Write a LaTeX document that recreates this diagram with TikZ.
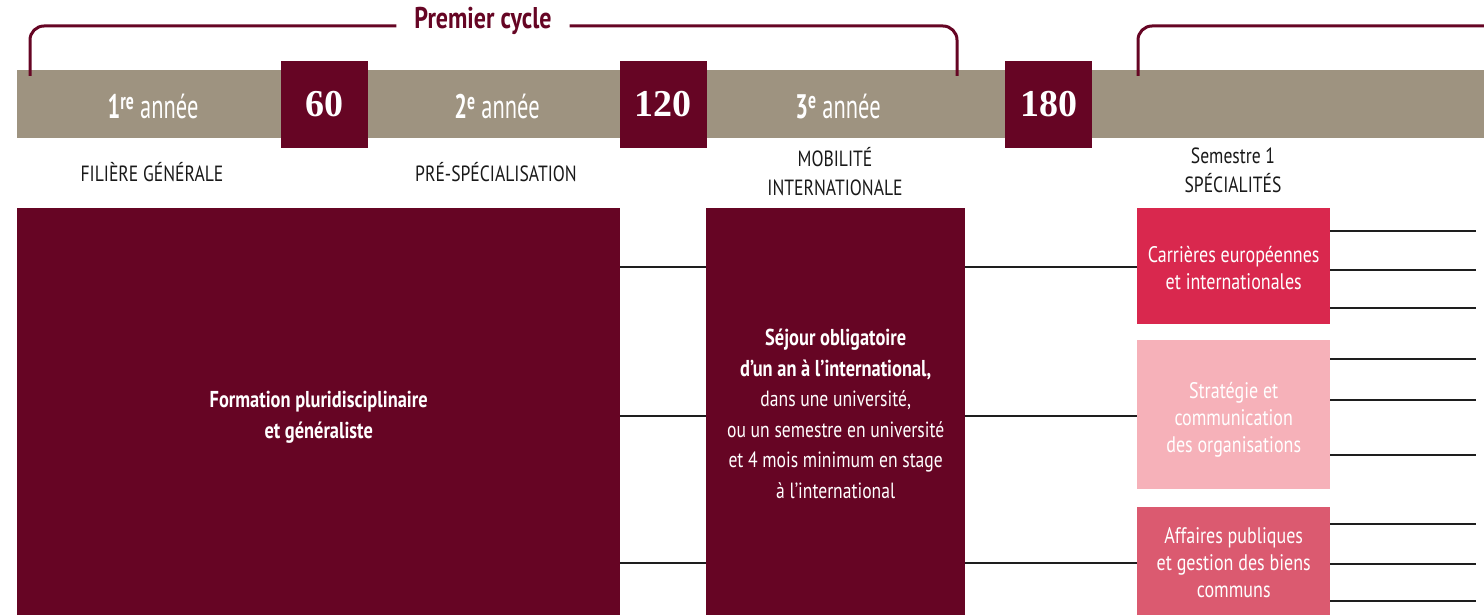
\documentclass[tikz,border=0pt]{standalone}
\usepackage{fontspec}
\setmainfont{PT Sans}[FakeStretch=0.8]
\newfontfamily\yearfont{PT Sans}[FakeStretch=0.66]
\newfontfamily\numfont{Liberation Serif}
\definecolor{maroon}{HTML}{660524}
\definecolor{bandc}{HTML}{9E9380}
\definecolor{specA}{HTML}{D9284E}
\definecolor{specB}{HTML}{F6B1B9}
\definecolor{specC}{HTML}{DB5A70}
\definecolor{linec}{HTML}{1E1E1E}
\tikzset{
  numbox/.style={fill=maroon, text=white, minimum width=87pt, minimum height=87pt, inner sep=0pt, font=\numfont\bfseries\fontsize{38}{40}\selectfont},
  yearlbl/.style={text=white, inner sep=0pt, font=\yearfont\fontsize{34}{36}\selectfont},
  sublbl/.style={text=black!90, align=center, inner sep=0pt, font=\fontsize{22}{29}\selectfont},
  bigbox/.style={fill=maroon, anchor=north west, inner sep=0pt},
  boxtext/.style={text=white, inner sep=0pt, align=center},
  specbox/.style={anchor=north west, minimum width=193pt, inner sep=0pt},
  spectext/.style={text=white, inner sep=0pt, align=center, font=\fontsize{22.5}{27}\selectfont},
  conn/.style={draw=linec, line width=1.8pt},
  bracket/.style={draw=maroon, line width=3pt, rounded corners=14pt},
}
\begin{document}
\begin{tikzpicture}[x=1pt,y=-1pt]
\useasboundingbox (0,0) rectangle (1484,615);
% band
\fill[bandc] (17,70) rectangle (1484,138);
% credit boxes
\node[numbox] (n60) at (324.5,104.5) {60};
\node[numbox] (n120) at (663,104.5) {120};
\node[numbox] (n180) at (1048.5,104.5) {180};
% year labels
\node[yearlbl] (y1) at (153,106) {\textbf{1\textsuperscript{re}} année};
\node[yearlbl] (y2) at (497,106) {\textbf{2\textsuperscript{e}} année};
\node[yearlbl] (y3) at (838,106) {\textbf{3\textsuperscript{e}} année};
% brackets
\node[text=maroon, inner xsep=18pt, inner ysep=0pt, font=\bfseries\fontsize{30}{31}\selectfont] (pc) at (483,21) {Premier cycle};
\coordinate (bl1) at (30,76);
\coordinate (br1) at (957,76);
\coordinate (bl2) at (1138,76);
\coordinate (br2) at (1484,26);
\draw[bracket] (bl1) -- (30,26) -- (pc.west |- 0,26);
\draw[bracket] (pc.east |- 0,26) -- (957,26) -- (br1);
\draw[bracket] (bl2) -- (1138,26) -- (br2);
% sub labels
\node[sublbl] (s1) at (152,172) {FILIÈRE GÉNÉRALE};
\node[sublbl] (s2) at (496,172) {PRÉ-SPÉCIALISATION};
\node[sublbl] (s3) at (835,172) {MOBILITÉ\\INTERNATIONALE};
\node[sublbl] (s4) at (1233,170) {Semestre 1\\SPÉCIALITÉS};
% big boxes
\node[bigbox, minimum width=603pt, minimum height=407pt] (b1) at (17,208) {};
\node[boxtext, font=\bfseries\fontsize{23}{31}\selectfont] (t1) at ([yshift=-6pt]b1.center) {Formation pluridisciplinaire\\et généraliste};
\node[bigbox, minimum width=259pt, minimum height=407pt] (b2) at (706,208) {};
\node[boxtext, font=\fontsize{22}{30.5}\selectfont] (t2) at ([yshift=-2pt]b2.center)
  {{\bfseries\fontsize{23}{30.5}\selectfont Séjour obligatoire}\\{\bfseries\fontsize{23}{30.5}\selectfont d’un an à l’international,}\\dans une université,\\ou un semestre en université\\et 4 mois minimum en stage\\à l’international};
% specialisation boxes
\node[specbox, fill=specA, minimum height=116pt] (bA) at (1137,208) {};
\node[spectext] (tA) at ([yshift=-2pt]bA.center) {Carrières européennes\\et internationales};
\node[specbox, fill=specB, minimum height=149pt] (bB) at (1137,340) {};
\node[spectext] (tB) at ([yshift=-5pt]bB.center) {Stratégie et\\communication\\des organisations};
\node[specbox, fill=specC, minimum height=108pt] (bC) at (1137,507) {};
\node[spectext] (tC) at ([yshift=-1pt]bC.center) {Affaires publiques\\et gestion des biens\\communs};
% connectors
\coordinate (h1) at (0,267);
\coordinate (h2) at (0,416);
\coordinate (h3) at (0,563);
\foreach \h in {h1,h2,h3}{
  \draw[conn] (b1.east |- \h) -- (b2.west |- \h);
  \draw[conn] (b2.east |- \h) -- (bA.west |- \h);
}
% right outgoing lines
\foreach \n/\y in {a1/231,a2/270,a3/308,b1/359,b2/400,b3/455,c1/524,c2/564,c3/601}{
  \coordinate (r\n) at (1476,\y);
  \draw[conn] (bA.east |- r\n) -- (r\n);
}
\end{tikzpicture}
\end{document}
